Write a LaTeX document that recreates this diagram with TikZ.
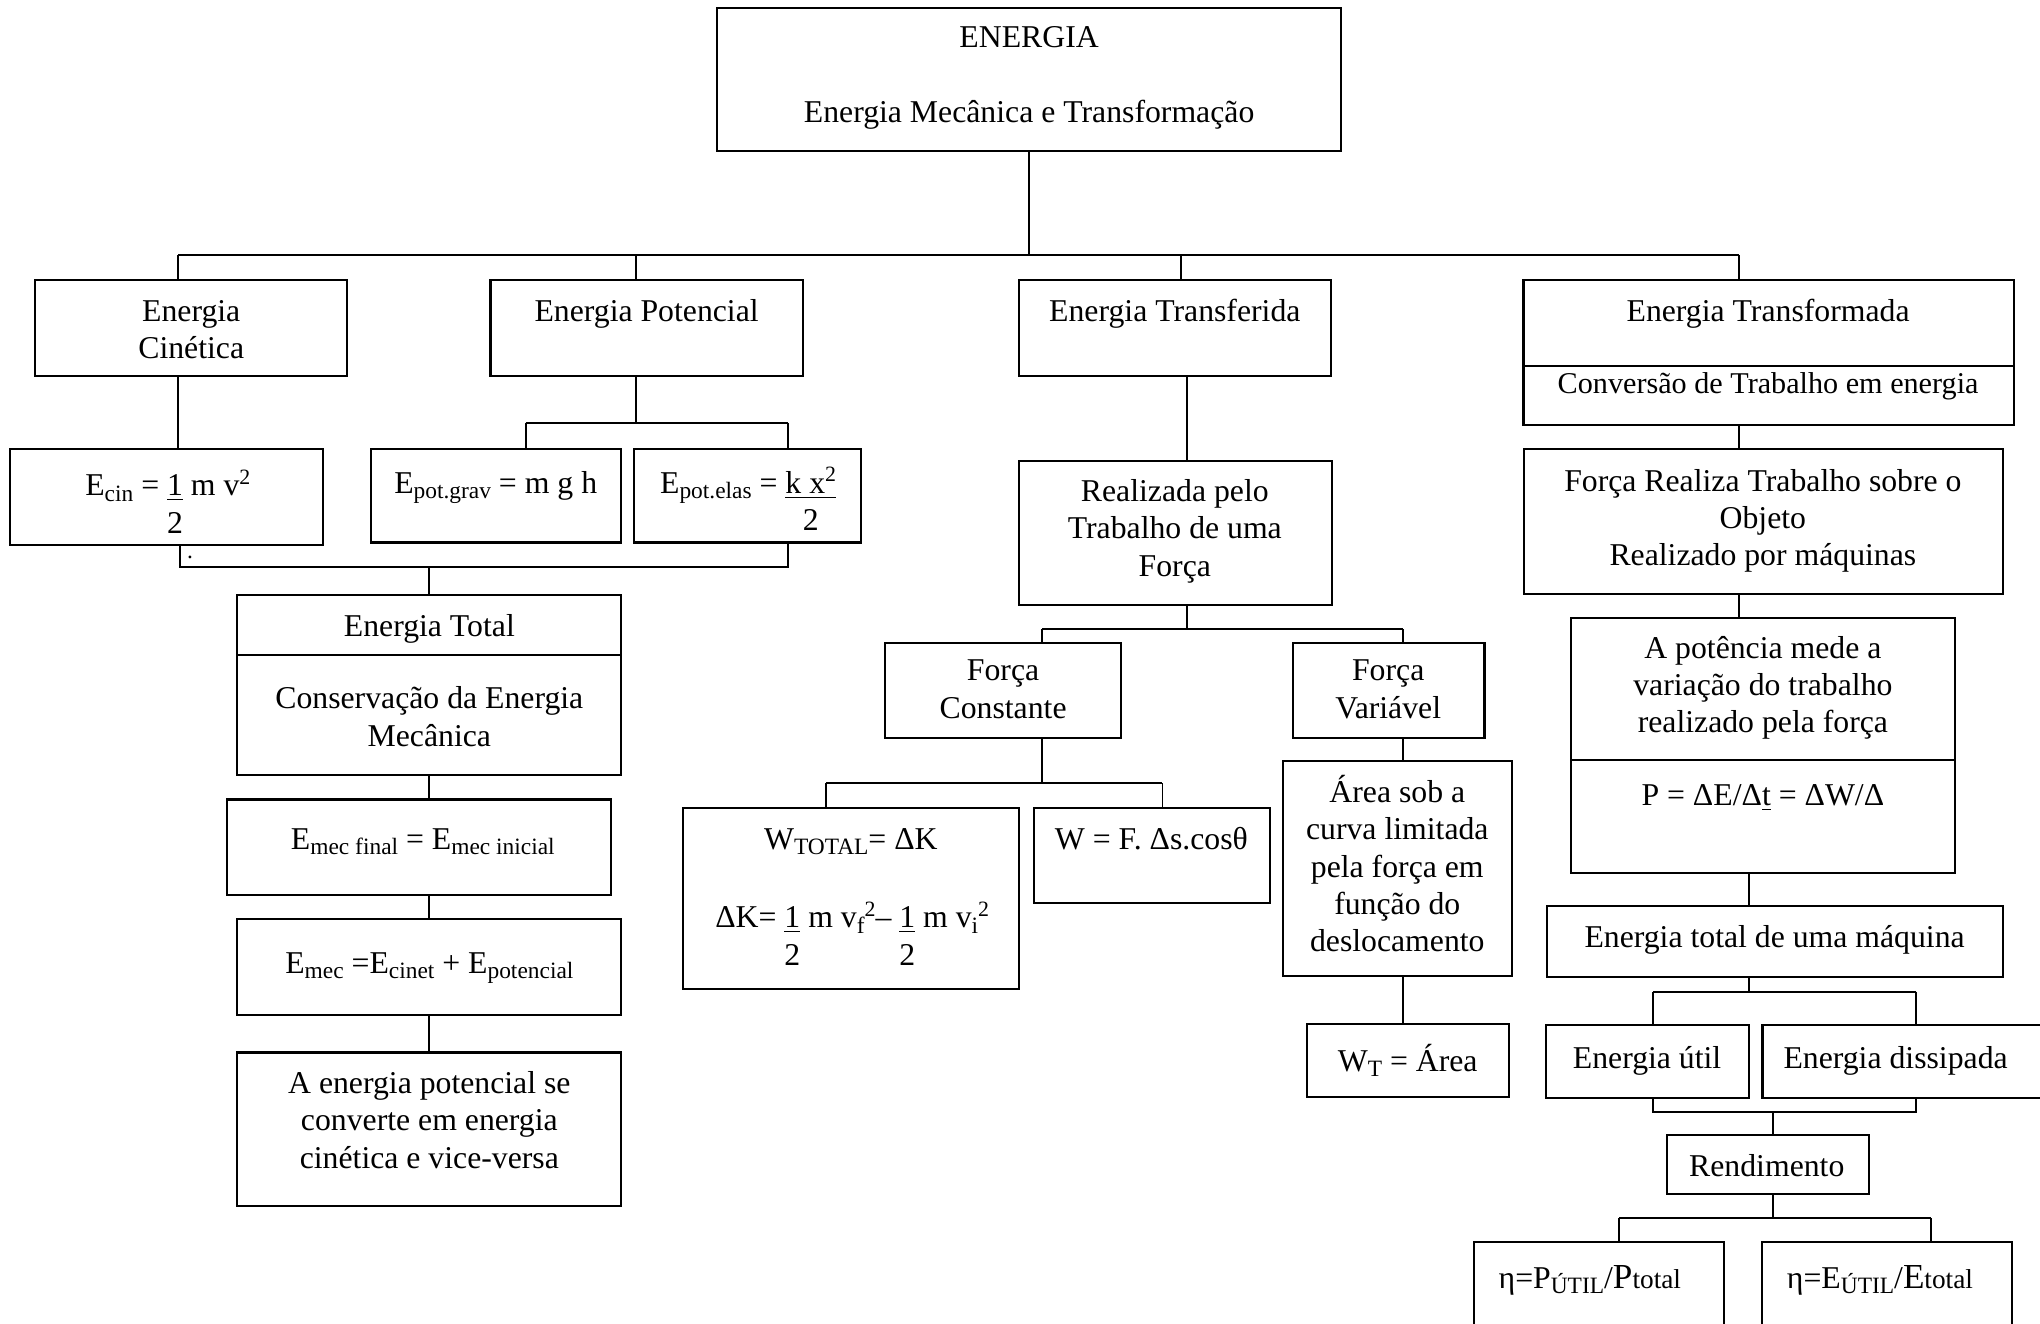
\documentclass[tikz,border=0pt]{standalone}
\usepackage{fontspec}
\setmainfont{Liberation Serif}
\usetikzlibrary{calc}

% Word-style lowered / raised small text
\newcommand\sbs[1]{\raisebox{-0.16em}{\fontsize{9}{10}\selectfont #1}}
\newcommand\sps[1]{\raisebox{0.36em}{\fontsize{8.4}{9}\selectfont #1}}
% underlined numerator with its denominator set on the line below
\newcommand\ulover[2]{\setbox0=\hbox{\underline{#1}}\rlap{\raisebox{-14.3pt}[0pt][0pt]{\makebox[\wd0][c]{#2}}}\box0\relax}
% box node from its corners
\newcommand\mkbox[5]{%
  \pgfmathsetmacro\mkw{(#4-#2)*0.5}%
  \pgfmathsetmacro\mkh{(#5-#3)*0.5}%
  \node[bx, minimum width=\mkw pt, minimum height=\mkh pt] (#1) at ({(#2+#4)/2},{(#3+#5)/2}) {};}

\begin{document}
\begin{tikzpicture}[x=0.5pt, y=-0.5pt, line width=0.75pt,
  bx/.style={draw, line width=0.8pt, inner sep=0pt, outer sep=0pt},
  txt/.style={font=\fontsize{12.2}{14.3}\selectfont, align=center, inner sep=0pt},
  dot/.style={font=\fontsize{9}{10}\selectfont, inner sep=0pt}]

\useasboundingbox (0,0) rectangle (1568,1017);
\fill[white] (0,0) rectangle (1568,1017);
\clip (0,0) rectangle (1568,1017);

% ---------- boxes ----------
\mkbox{top}{551}{6}{1031}{116}
\mkbox{cin}{27}{215}{267}{289}
\mkbox{pot}{377}{215}{617}{289}
\mkbox{transf}{783}{215}{1023}{289}
\mkbox{transform}{1171}{215}{1548}{327}
\mkbox{ecin}{8}{345}{248}{419}
\mkbox{egrav}{285}{345}{477}{417}
\mkbox{eelas}{487.5}{345}{662}{417}
\mkbox{etotal}{182}{457}{477}{596}
\mkbox{emecfin}{174.3}{614.5}{469.4}{688}
\mkbox{emec}{182}{706.6}{477}{780}
\mkbox{conv}{182}{809}{477}{927}
\mkbox{realiz}{783}{354}{1023.5}{465}
\mkbox{fconst}{680}{494}{861.5}{567.5}
\mkbox{fvar}{993.5}{494}{1141}{567.5}
\mkbox{wtotal}{525}{621.3}{783.5}{760.4}
\mkbox{wf}{795}{621.3}{976}{694.3}
\mkbox{area}{986}{584.7}{1162}{750.2}
\mkbox{wt}{1004.5}{787}{1160}{843}
\mkbox{forcareal}{1171.3}{345.4}{1539.3}{456.6}
\mkbox{potencia}{1207.2}{475.3}{1502.3}{670.8}
\mkbox{emaq}{1188.7}{696.4}{1539.4}{751.2}
\mkbox{util}{1188.6}{788}{1344.6}{844}
\mkbox{dissip}{1354.7}{788}{1580}{844}
\mkbox{rend}{1281.1}{872.4}{1436.7}{917.5}
\mkbox{etaP}{1133}{954.4}{1325}{1035}
\mkbox{etaE}{1354}{954.4}{1546.6}{1035}

% dividers inside split boxes
\coordinate (dv1) at (0,281);
\coordinate (dv2) at (0,503.5);
\coordinate (dv3) at (0,584.2);
\draw[line width=0.8pt] (transform.west |- dv1) -- (transform.east |- dv1);
\draw[line width=0.8pt] (etotal.west |- dv2) -- (etotal.east |- dv2);
\draw[line width=0.8pt] (potencia.west |- dv3) -- (potencia.east |- dv3);

% ---------- texts ----------
\begin{scope}[yshift=-1.25pt]
\node[txt] (t-top) at (791,57) {\strut ENERGIA\\[14.3pt]Energia Mecânica e Transformação\strut};
\node[txt] (t-cin) at (147,253) {\strut Energia\\Cinética\strut};
\node[txt] (t-pot) at (497,239) {\strut Energia Potencial};
\node[txt] (t-transf) at (903,239) {\strut Energia Transferida};
\node[txt] (t-transform) at (1359,239) {\strut Energia Transformada};
\node[txt, font=\fontsize{11.6}{14.3}\selectfont] (t-conversao) at (1359,294) {\strut Conversão de Trabalho em energia};
\node[txt] (t-ecin) at (129,373) {\strut E\sbs{cin} = \ulover{1}{2} m v\sps{2}};
\node[dot] (t-dot1) at (146,426) {.};
\node[txt] (t-egrav) at (381,371) {\strut E\sbs{pot.grav} = m g h};
\node[txt] (t-eelas) at (575,371) {\strut E\sbs{pot.elas} = \ulover{k x\sps{2}}{2}};
\node[txt] (t-etotal) at (330,481) {\strut Energia Total};
\node[txt] (t-conserv) at (330,551) {\strut Conservação da Energia\\Mecânica\strut};
\node[txt] (t-emecfin) at (325,645) {\strut E\sbs{mec final} = E\sbs{mec inicial}};
\node[txt] (t-emec) at (330,740) {\strut E\sbs{mec} =E\sbs{cinet} + E\sbs{potencial}};
\node[txt] (t-conv) at (330,861) {\strut A energia potencial se\\converte em energia\\cinética e vice-versa\strut};
\node[txt] (t-realiz) at (903,406) {\strut Realizada pelo\\Trabalho de uma\\Força\strut};
\node[txt] (t-fconst) at (771,529.5) {\strut Força\\Constante\strut};
\node[txt] (t-fvar) at (1067,529.5) {\strut Força\\Variável\strut};
\node[txt] (t-wtotal) at (654,645) {\strut W\sbs{TOTAL}= ΔK};
\node[txt] (t-dk) at (655,705) {\strut ΔK= \ulover{1}{2} m v\sbs{f}\sps{2}– \ulover{1}{2} m v\sbs{i}\sps{2}};
\node[txt] (t-wf) at (885,645) {\strut W = F. Δs.cosθ};
\node[txt] (t-area) at (1074,665.5) {\strut Área sob a\\curva limitada\\pela força em\\função do\\deslocamento\strut};
\node[txt] (t-wt) at (1082,815) {\strut W\sbs{T} = Área};
\node[txt] (t-forcareal) at (1355,398) {\strut Força Realiza Trabalho sobre o\\Objeto\\Realizado por máquinas\strut};
\node[txt] (t-potencia) at (1355,526.5) {\strut A potência mede a\\variação do trabalho\\realizado pela força\strut};
\node[txt] (t-p) at (1355,611) {\strut P = ΔE/Δ\underline{t} = ΔW/Δ};
\node[txt] (t-emaq) at (1364,720) {\strut Energia total de uma máquina};
\node[txt] (t-util) at (1266,813) {\strut Energia útil};
\node[txt] (t-dissip) at (1457,813) {\strut Energia dissipada};
\node[txt] (t-rend) at (1358,896) {\strut Rendimento};
\node[txt] (t-etaP) at (1222,982) {\strut η=P\sbs{ÚTIL}/{\fontsize{13.5}{14}\selectfont P}{\fontsize{10.5}{12}\selectfont total}};
\node[txt] (t-etaE) at (1445,982) {\strut η=E\sbs{ÚTIL}/{\fontsize{13.5}{14}\selectfont E}{\fontsize{10.5}{12}\selectfont total}};
\end{scope}

% ---------- connectors ----------
% ENERGIA to the four branches
\coordinate (dA1) at (137,196);
\coordinate (dA2) at (489,196);
\coordinate (dA3) at (908,196);
\coordinate (dA4) at (1336.5,196);
\draw (top.south) -- (top.south |- dA1);
\draw (dA1) -- (dA4);
\draw (dA1) -- (dA1 |- cin.north);
\draw (dA2) -- (dA2 |- pot.north);
\draw (dA3) -- (dA3 |- transf.north);
\draw (dA4) -- (dA4 |- transform.north);

% kinetic / potential branch
\draw (dA1 |- cin.south) -- (dA1 |- ecin.north);
\coordinate (jC) at (489,325);
\coordinate (jCl) at (404,325);
\coordinate (jCr) at (606,325);
\draw (jC |- pot.south) -- (jC);
\draw (jCl) -- (jCr);
\draw (jCl) -- (jCl |- egrav.north);
\draw (jCr) -- (jCr |- eelas.north);
\coordinate (jDl) at (138,436);
\coordinate (jDr) at (606,436);
\coordinate (jDm) at (330,436);
\draw (jDl |- ecin.south) -- (jDl) -- (jDr) -- (jDr |- eelas.south);
\draw (jDm) -- (jDm |- etotal.north);
\draw (etotal.south -| jDm) -- (emecfin.north -| jDm);
\draw (emecfin.south -| jDm) -- (emec.north -| jDm);
\draw (emec.south -| jDm) -- (conv.north -| jDm);

% transferred energy branch
\coordinate (xH) at (912.5,0);
\draw (transf.south -| xH) -- (realiz.north -| xH);
\coordinate (jI) at (912,483.5);
\coordinate (jIl) at (801,483.5);
\coordinate (jIr) at (1078.6,483.5);
\draw (realiz.south -| jI) -- (jI);
\draw (jIl) -- (jIr);
\draw (jIl) -- (jIl |- fconst.north);
\draw (jIr) -- (jIr |- fvar.north);
\coordinate (jJ) at (801,602);
\coordinate (jJl) at (635,602);
\coordinate (jJr) at (893.5,602);
\draw (fconst.south -| jJ) -- (jJ);
\draw (jJl) -- (jJr);
\draw (jJl) -- (jJl |- wtotal.north);
\draw (jJr) -- (jJr |- wf.north);
\draw (fvar.south -| jIr) -- (area.north -| jIr);
\draw (area.south -| jIr) -- (wt.north -| jIr);

% transformed energy branch
\coordinate (xM) at (1336.5,0);
\coordinate (xO) at (1344,0);
\draw (transform.south -| xM) -- (forcareal.north -| xM);
\draw (forcareal.south -| xM) -- (potencia.north -| xM);
\draw (potencia.south -| xO) -- (emaq.north -| xO);
\coordinate (jP) at (1344,762.2);
\coordinate (jPl) at (1270.5,762.2);
\coordinate (jPr) at (1473,762.2);
\draw (emaq.south -| jP) -- (jP);
\draw (jPl) -- (jPr);
\draw (jPl) -- (jPl |- util.north);
\draw (jPr) -- (jPr |- dissip.north);
\coordinate (jQl) at (1270.5,854.5);
\coordinate (jQr) at (1473,854.5);
\coordinate (jQm) at (1362.4,854.5);
\draw (jQl |- util.south) -- (jQl) -- (jQr) -- (jQr |- dissip.south);
\draw (jQm) -- (jQm |- rend.north);
\coordinate (jR) at (1362.4,936.5);
\coordinate (jRl) at (1244.5,936.5);
\coordinate (jRr) at (1484,936.5);
\draw (rend.south -| jR) -- (jR);
\draw (jRl) -- (jRr);
\draw (jRl) -- (jRl |- etaP.north);
\draw (jRr) -- (jRr |- etaE.north);
\end{tikzpicture}
\end{document}
